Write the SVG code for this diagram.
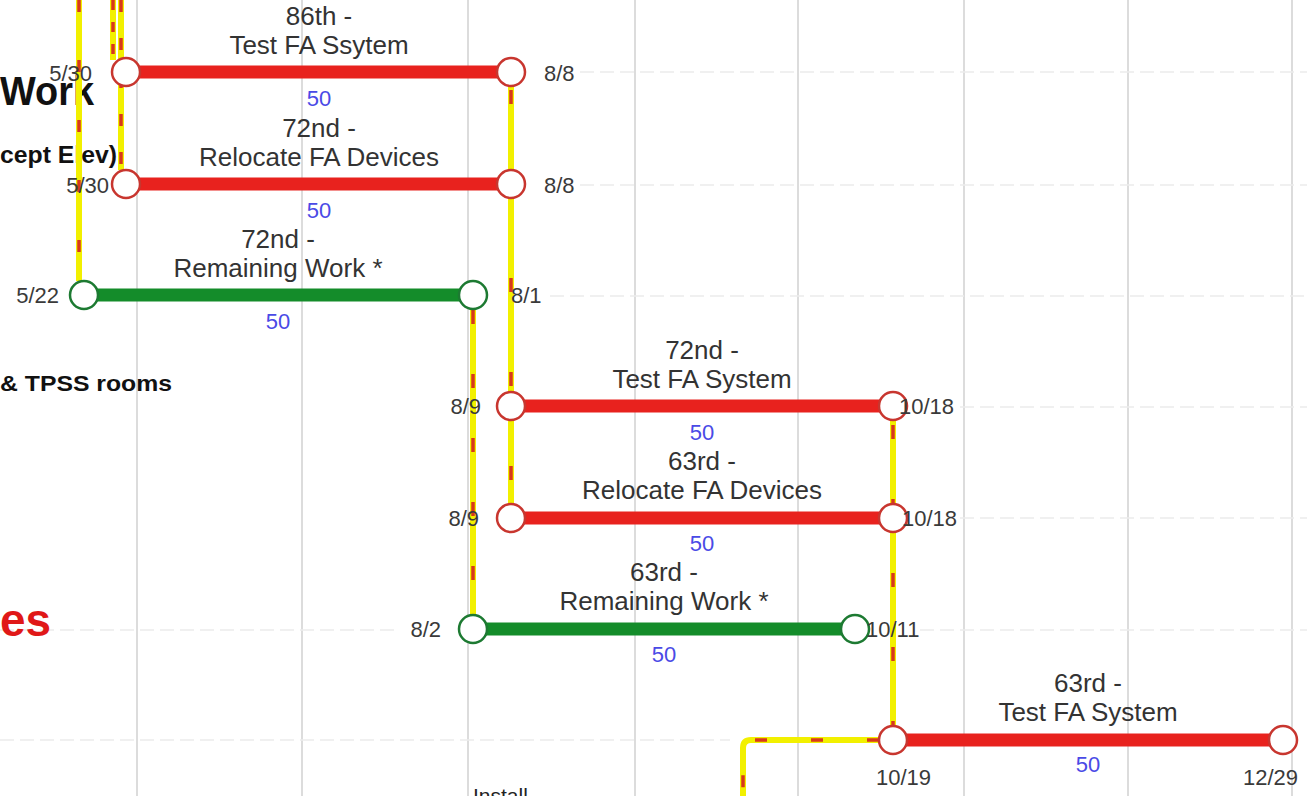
<svg xmlns="http://www.w3.org/2000/svg" width="1307" height="796" viewBox="0 0 1307 796">
<style>
.grid{stroke:#dcdcdc;stroke-width:2}
.hgrid{stroke:#ececec;stroke-width:1.5;stroke-dasharray:14 6}
.conn{fill:none;stroke:#f2f000;stroke-width:6}
.arr{fill:none;stroke:#d8381c;stroke-width:3.5;stroke-dasharray:12 48}
.barR{stroke:#e8221e;stroke-width:13}
.barG{stroke:#148c2a;stroke-width:13}
.cR{fill:#fff;stroke:#c8362f;stroke-width:2.5}
.cG{fill:#fff;stroke:#1d7a32;stroke-width:2.5}
.lbl{font-family:"Liberation Sans",Arial,sans-serif;font-size:26px;fill:#333;text-anchor:middle}
.num{font-family:"Liberation Sans",Arial,sans-serif;font-size:22px;fill:#4a4ae6;text-anchor:middle}
.dt{font-family:"Liberation Sans",Arial,sans-serif;font-size:22px;fill:#3a3a3a}
.dtr{font-family:"Liberation Sans",Arial,sans-serif;font-size:22px;fill:#3a3a3a;text-anchor:end}
.bold{font-family:"Liberation Sans",Arial,sans-serif;font-weight:bold;fill:#111}
</style>
<rect width="1307" height="796" fill="#fff"/>
<g id="grid">
<line class="grid" x1="137" y1="0" x2="137" y2="796"/>
<line class="grid" x1="302" y1="0" x2="302" y2="796"/>
<line class="grid" x1="468" y1="0" x2="468" y2="796"/>
<line class="grid" x1="635" y1="0" x2="635" y2="796"/>
<line class="grid" x1="798" y1="0" x2="798" y2="796"/>
<line class="grid" x1="964" y1="0" x2="964" y2="796"/>
<line class="grid" x1="1128" y1="0" x2="1128" y2="796"/>
<line class="grid" x1="1292" y1="0" x2="1292" y2="796"/>
<line class="hgrid" x1="580" y1="72" x2="1307" y2="72"/>
<line class="hgrid" x1="580" y1="185" x2="1307" y2="185"/>
<line class="hgrid" x1="550" y1="296" x2="1307" y2="296"/>
<line class="hgrid" x1="960" y1="407" x2="1307" y2="407"/>
<line class="hgrid" x1="960" y1="518" x2="1307" y2="518"/>
<line class="hgrid" x1="0" y1="630" x2="400" y2="630"/>
<line class="hgrid" x1="920" y1="630" x2="1307" y2="630"/>
<line class="hgrid" x1="0" y1="740" x2="730" y2="740"/>
</g>
<g id="side-text">
<text class="bold" x="0" y="105" font-size="40" textLength="94" lengthAdjust="spacingAndGlyphs">Work</text>
<text class="bold" x="0" y="163" font-size="23" textLength="117" lengthAdjust="spacingAndGlyphs">cept Elev)</text>
<text class="bold" x="0" y="391" font-size="22" textLength="172" lengthAdjust="spacingAndGlyphs">&amp; TPSS rooms</text>
<text x="0" y="636" font-family="Liberation Sans, Arial, sans-serif" font-weight="bold" font-size="46" fill="#e01818" textLength="51" lengthAdjust="spacingAndGlyphs">es</text>
<text x="473" y="803" font-family="Liberation Sans, Arial, sans-serif" font-size="21" fill="#222">Install</text>
</g>
<g id="connectors">
<path class="conn" d="M79 0V281"/>
<path class="arr" d="M79 0V281"/>
<path class="conn" d="M113 0V60"/>
<path class="arr" d="M113 0V60" style="stroke-dasharray:10 12"/>
<path class="conn" d="M121 0V170"/>
<path class="arr" d="M121 0V170" style="stroke-dasharray:12 26"/>
<path class="conn" d="M511 72V518"/>
<path class="arr" d="M511 90V518" style="stroke-dasharray:14 80"/>
<path class="conn" d="M473 295V629"/>
<path class="arr" d="M473 310V629" style="stroke-dasharray:14 50"/>
<path class="conn" d="M893 406V740"/>
<path class="arr" d="M893 425V740" style="stroke-dasharray:14 60"/>
<path class="conn" d="M879 740H751Q743 740 743 748V796"/>
<path class="arr" d="M879 740H751Q743 740 743 748V796" style="stroke-dasharray:12 44"/>
</g>
<g id="task-86-test">
<line class="barR" x1="126" y1="72" x2="511" y2="72"/>
<circle class="cR" cx="126" cy="72" r="14"/>
<circle class="cR" cx="511" cy="72" r="14"/>
<text class="lbl" x="319" y="25">86th -</text>
<text class="lbl" x="319" y="54">Test FA Ssytem</text>
<text class="num" x="319" y="106">50</text>
<text class="dtr" x="92" y="81">5/30</text>
<text class="dt" x="544" y="81">8/8</text>
</g>
<g id="task-72-relocate">
<line class="barR" x1="126" y1="184" x2="511" y2="184"/>
<circle class="cR" cx="126" cy="184" r="14"/>
<circle class="cR" cx="511" cy="184" r="14"/>
<text class="lbl" x="319" y="137">72nd -</text>
<text class="lbl" x="319" y="166">Relocate FA Devices</text>
<text class="num" x="319" y="218">50</text>
<text class="dtr" x="109" y="193">5/30</text>
<text class="dt" x="544" y="193">8/8</text>
</g>
<g id="task-72-remaining">
<line class="barG" x1="84" y1="295" x2="473" y2="295"/>
<circle class="cG" cx="84" cy="295" r="14"/>
<circle class="cG" cx="473" cy="295" r="14"/>
<text class="lbl" x="278" y="248">72nd -</text>
<text class="lbl" x="278" y="277">Remaining Work *</text>
<text class="num" x="278" y="329">50</text>
<text class="dtr" x="59" y="303">5/22</text>
<text class="dt" x="511" y="303">8/1</text>
</g>
<g id="task-72-test">
<line class="barR" x1="511" y1="406" x2="893" y2="406"/>
<circle class="cR" cx="511" cy="406" r="14"/>
<circle class="cR" cx="893" cy="406" r="14"/>
<text class="lbl" x="702" y="359">72nd -</text>
<text class="lbl" x="702" y="388">Test FA System</text>
<text class="num" x="702" y="440">50</text>
<text class="dtr" x="481" y="414">8/9</text>
<text class="dt" x="899" y="414">10/18</text>
</g>
<g id="task-63-relocate">
<line class="barR" x1="511" y1="518" x2="893" y2="518"/>
<circle class="cR" cx="511" cy="518" r="14"/>
<circle class="cR" cx="893" cy="518" r="14"/>
<text class="lbl" x="702" y="470">63rd -</text>
<text class="lbl" x="702" y="499">Relocate FA Devices</text>
<text class="num" x="702" y="551">50</text>
<text class="dtr" x="479" y="526">8/9</text>
<text class="dt" x="902" y="526">10/18</text>
</g>
<g id="task-63-remaining">
<line class="barG" x1="473" y1="629" x2="855" y2="629"/>
<circle class="cG" cx="473" cy="629" r="14"/>
<circle class="cG" cx="855" cy="629" r="14"/>
<text class="lbl" x="664" y="581">63rd -</text>
<text class="lbl" x="664" y="610">Remaining Work *</text>
<text class="num" x="664" y="662">50</text>
<text class="dtr" x="441" y="637">8/2</text>
<text class="dt" x="866" y="637">10/11</text>
</g>
<g id="task-63-test">
<line class="barR" x1="893" y1="740" x2="1283" y2="740"/>
<circle class="cR" cx="893" cy="740" r="14"/>
<circle class="cR" cx="1283" cy="740" r="14"/>
<text class="lbl" x="1088" y="692">63rd -</text>
<text class="lbl" x="1088" y="721">Test FA System</text>
<text class="num" x="1088" y="772">50</text>
<text class="dt" x="876" y="785">10/19</text>
<text class="dtr" x="1298" y="785">12/29</text>
</g>
</svg>
